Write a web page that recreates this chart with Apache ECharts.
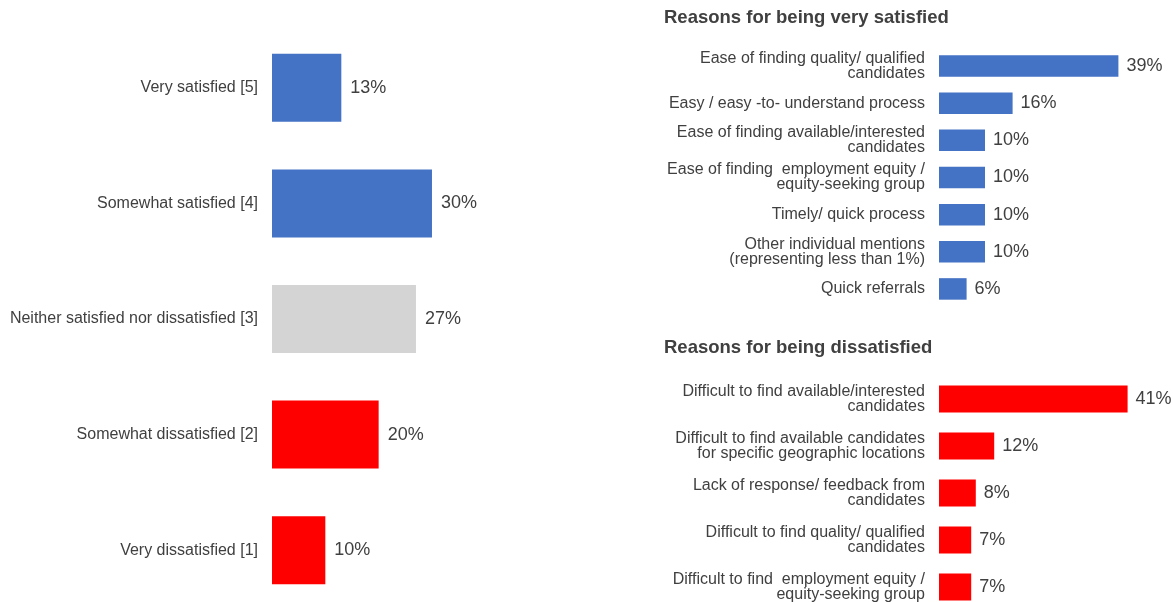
<!DOCTYPE html>
<html>
	<head>
		<meta charset="utf-8">
		<title>Satisfaction</title>
		<script src="https://cdn.jsdelivr.net/npm/echarts@6/dist/echarts.min.js"></script>
		<style>
			html, body { margin: 0; padding: 0; background: #fff; }
			#main { width: 1173px; height: 602px; }
		</style>
	</head>
	<body>
		<div id="main"></div>
	<script type="text/javascript">
		// overall satisfaction
		var satCategories = ['Very satisfied [5]', 'Somewhat satisfied [4]', 'Neither satisfied nor dissatisfied [3]', 'Somewhat dissatisfied [2]', 'Very dissatisfied [1]'];
		var satValues = [13, 30, 27, 20, 10];

		// reasons for being very satisfied
		var goodCategories = ['Ease of finding quality/ qualified\ncandidates', 'Easy / easy -to- understand process', 'Ease of finding available/interested\ncandidates', 'Ease of finding  employment equity /\nequity-seeking group', 'Timely/ quick process', 'Other individual mentions\n(representing less than 1%)', 'Quick referrals'];
		var goodValues = [39, 16, 10, 10, 10, 10, 6];

		// reasons for being dissatisfied
		var badCategories = ['Difficult to find available/interested\ncandidates', 'Difficult to find available candidates\nfor specific geographic locations', 'Lack of response/ feedback from\ncandidates', 'Difficult to find quality/ qualified\ncandidates', 'Difficult to find  employment equity /\nequity-seeking group'];
		var badValues = [41, 12, 8, 7, 7];

		var BLUE = '#4472C4', RED = '#FF0000', GREY = '#D4D4D4';
		var satColors = [BLUE, BLUE, GREY, RED, RED];
		var FONT = "'Liberation Sans', Arial, sans-serif";
		var TXT = '#404040';

		function catAxis(idx, cats, size, lh) {
			return {
				type: 'category', gridIndex: idx, data: cats, inverse: true,
				axisLine: { show: false }, axisTick: { show: false },
				axisLabel: { margin: 14, color: TXT, fontSize: size, lineHeight: lh, fontFamily: FONT, align: 'right' }
			};
		}
		function valAxis(idx, max) {
			return { type: 'value', gridIndex: idx, min: 0, max: max, show: false, splitLine: { show: false } };
		}
		function barSeries(idx, vals, colorFn, bw, dist) {
			return {
				type: 'bar', xAxisIndex: idx, yAxisIndex: idx, barWidth: bw,
				data: vals, silent: true,
				itemStyle: { color: colorFn },
				label: { show: true, position: 'right', distance: dist, formatter: '{c}%', color: TXT, fontSize: 18, fontFamily: FONT }
			};
		}

		var myChart = echarts.init(document.getElementById('main'));
		myChart.setOption({
			animation: false,
			backgroundColor: '#fff',
			textStyle: { fontFamily: FONT },
			title: [
				{ text: 'Reasons for being very satisfied', left: 664, top: 8, padding: 0, textStyle: { fontSize: 18.5, fontWeight: 'bold', color: TXT, fontFamily: FONT } },
				{ text: 'Reasons for being dissatisfied', left: 664, top: 338, padding: 0, textStyle: { fontSize: 18.5, fontWeight: 'bold', color: TXT, fontFamily: FONT } }
			],
			grid: [
				{ left: 272, top: 30, width: 213.3, height: 578, outerBoundsMode: 'none' },
				{ left: 939, top: 47.5, width: 230, height: 260, outerBoundsMode: 'none' },
				{ left: 939, top: 375.5, width: 230, height: 235, outerBoundsMode: 'none' }
			],
			xAxis: [valAxis(0, 40), valAxis(1, 50), valAxis(2, 50)],
			yAxis: [
				catAxis(0, satCategories, 16, 18),
				catAxis(1, goodCategories, 16, 15),
				catAxis(2, badCategories, 16, 15)
			],
			series: [
				barSeries(0, satValues, function (p) { return satColors[p.dataIndex]; }, 68, 9),
				barSeries(1, goodValues, BLUE, 21.5, 8),
				barSeries(2, badValues, RED, 27, 8)
			]
		});
	</script>
	</body>
</html>
